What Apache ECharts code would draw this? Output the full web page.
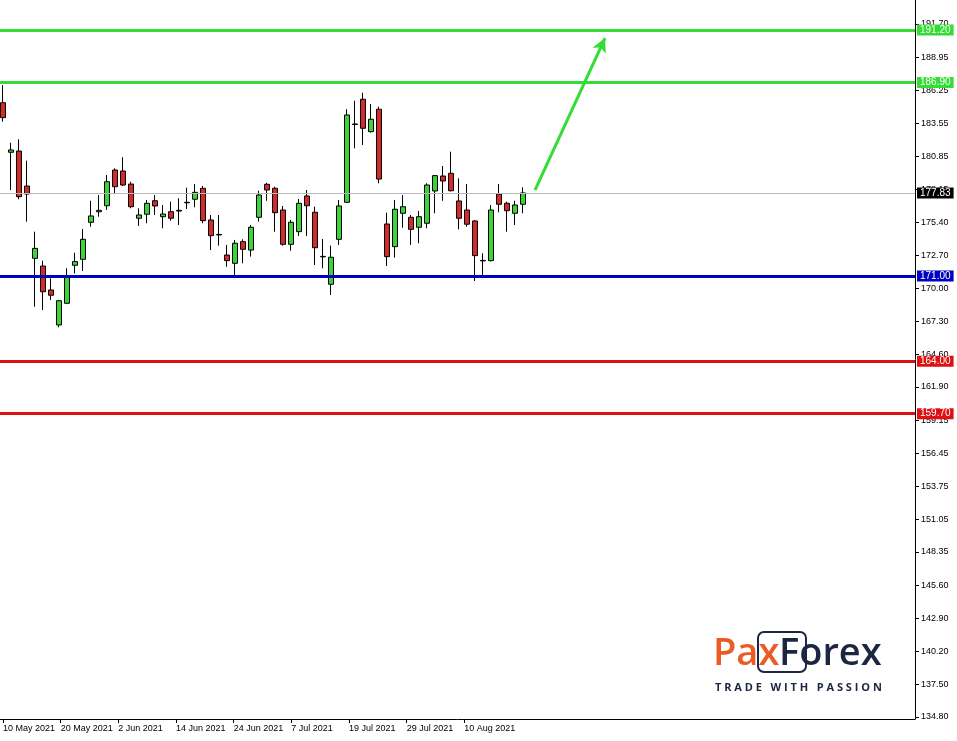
<!DOCTYPE html>
<html>
<head>
<meta charset="utf-8">
<script src="https://cdn.jsdelivr.net/npm/echarts@6/dist/echarts.min.js"></script>
<style>
html,body{margin:0;padding:0;background:#fff;}
#chart{width:957px;height:741px;}
</style>
</head>
<body>
<div id="chart"></div>
<script>
// Trading days shown (daily candles)
const dates = [
  '2021-05-10','2021-05-11','2021-05-12','2021-05-13','2021-05-14','2021-05-17','2021-05-18','2021-05-19','2021-05-20','2021-05-21',
  '2021-05-24','2021-05-25','2021-05-26','2021-05-27','2021-05-28','2021-06-01','2021-06-02','2021-06-03','2021-06-04','2021-06-07',
  '2021-06-08','2021-06-09','2021-06-10','2021-06-11','2021-06-14','2021-06-15','2021-06-16','2021-06-17','2021-06-18','2021-06-21',
  '2021-06-22','2021-06-23','2021-06-24','2021-06-25','2021-06-28','2021-06-29','2021-06-30','2021-07-01','2021-07-02','2021-07-06',
  '2021-07-07','2021-07-08','2021-07-09','2021-07-12','2021-07-13','2021-07-14','2021-07-15','2021-07-16','2021-07-19','2021-07-20',
  '2021-07-21','2021-07-22','2021-07-23','2021-07-26','2021-07-27','2021-07-28','2021-07-29','2021-07-30','2021-08-02','2021-08-03',
  '2021-08-04','2021-08-05','2021-08-06','2021-08-09','2021-08-10','2021-08-11'
];
const opens = [
  185.24,181.17,181.27,178.40,172.46,171.83,169.86,166.99,168.77,171.89,
  172.38,175.42,176.28,176.78,179.71,179.63,178.56,175.75,176.08,177.19,
  175.88,176.29,176.40,177.02,177.31,178.21,175.61,174.42,172.73,172.05,
  173.83,173.14,175.83,178.54,178.21,176.43,173.61,174.65,177.58,176.24,
  172.62,170.33,174.02,177.06,183.49,185.52,182.86,184.70,175.28,173.42,
  176.16,175.83,175.01,175.34,177.99,179.22,179.44,177.17,176.43,175.53,
  172.29,172.27,177.74,176.98,176.16,176.90
];
const closes = [
  184.01,181.36,177.52,177.74,173.28,169.72,169.43,168.98,170.95,172.19,
  174.02,175.94,176.40,178.75,178.34,178.48,176.70,176.02,176.98,176.76,
  176.10,175.75,176.34,177.06,177.88,175.55,174.32,174.38,172.27,173.70,
  173.20,175.01,177.66,178.07,176.21,173.61,175.42,176.98,176.78,173.33,
  172.58,172.55,176.76,184.23,183.45,183.14,183.88,178.97,172.60,176.49,
  176.70,174.84,175.88,178.48,179.25,178.81,178.01,175.75,175.26,172.68,
  172.25,176.43,176.90,176.37,176.84,177.83
];
const lows = [
  183.68,178.07,177.31,175.47,168.49,168.22,169.04,166.80,168.70,171.23,
  171.42,175.06,175.88,176.43,177.74,178.40,176.57,175.12,175.34,176.02,
  174.93,175.55,175.20,176.51,176.65,175.34,173.14,173.50,171.77,170.95,
  172.05,172.60,175.47,177.19,174.65,173.50,173.09,174.29,174.29,171.91,
  171.64,169.45,173.56,177.00,181.49,181.77,182.78,178.62,171.83,172.52,
  174.98,173.56,173.70,174.93,176.16,177.19,177.95,174.84,175.06,170.60,
  171.09,172.20,176.24,174.65,175.20,176.16
];
const highs = [
  186.69,181.95,182.23,180.48,174.65,172.27,170.82,169.05,171.64,172.92,
  174.87,177.19,177.66,179.30,179.85,180.76,178.75,176.57,177.25,177.66,
  176.84,177.11,177.39,178.26,178.56,178.40,176.02,176.02,173.56,173.97,
  174.02,175.20,178.01,178.67,178.34,176.76,175.61,177.33,178.07,176.70,
  174.05,173.50,177.25,184.70,185.40,186.06,185.13,184.91,176.21,177.25,
  177.66,176.02,176.35,178.62,179.30,180.04,181.22,179.03,178.56,175.60,
  172.87,176.84,178.56,177.11,177.19,178.29
];

// Horizontal levels drawn on the chart
const levelValues = [191.20, 186.90, 177.83, 171.00, 164.00, 159.70];
const levelColors = ['#33dd33', '#33dd33', '#000000', '#0000c0', '#dd1111', '#dd1111'];

// Projection arrow (bar index, price)
const arrowFrom = [66.5, 178.07];
const arrowTo = [75.25, 190.55];

// Axis ticks
const yTickLabels = ['191.70','188.95','186.25','183.55','180.85','178.15','175.40','172.70','170.00','167.30','164.60',
  '161.90','159.15','156.45','153.75','151.05','148.35','145.60','142.90','140.20','137.50','134.80'];
const xTickLabels = ['10 May 2021','20 May 2021','2 Jun 2021','14 Jun 2021','24 Jun 2021','7 Jul 2021','19 Jul 2021','29 Jul 2021','10 Aug 2021'];
const xTickBars = [0, 7.21, 14.41, 21.63, 28.84, 36.04, 43.25, 50.46, 57.66];

const candleData = dates.map((d, i) => [i, opens[i], closes[i], lows[i], highs[i]]);
const yTickValues = yTickLabels.map(Number);

const levelLines = levelValues.map((v, i) => {
  const isPrice = i === 2;
  return {
    yAxis: v,
    lineStyle: { color: isPrice ? '#b8b8b8' : levelColors[i], width: isPrice ? 1 : 3, type: 'solid' },
    label: {
      show: true, position: 'end', distance: 2,
      formatter: () => v.toFixed(2),
      color: '#ffffff', backgroundColor: levelColors[i],
      fontFamily: 'Liberation Sans', fontSize: 10, padding: [1, 3, 0, 3]
    }
  };
});

const arrowLine = [
  { coord: arrowFrom, symbol: 'none', lineStyle: { color: '#33dd33', width: 3, type: 'solid' }, label: { show: false } },
  { coord: arrowTo, symbol: 'arrow', symbolSize: [11, 14] }
];

const chart = echarts.init(document.getElementById('chart'), null, { renderer: 'canvas' });
chart.setOption({
  animation: false,
  backgroundColor: '#ffffff',
  grid: { left: 0, right: 42, top: 0, bottom: 22, containLabel: false },
  xAxis: {
    type: 'value', min: -0.375, max: 114,
    axisLine: { show: true, onZero: false, lineStyle: { color: '#000', width: 1 } },
    axisTick: { show: true, length: 4, lineStyle: { color: '#000' }, customValues: xTickBars },
    axisLabel: {
      show: true, customValues: xTickBars, align: 'left', margin: 5,
      fontFamily: 'Liberation Sans', fontSize: 9, color: '#000',
      formatter: (v) => {
        let best = 0;
        for (let i = 1; i < xTickBars.length; i++) if (Math.abs(xTickBars[i] - v) < Math.abs(xTickBars[best] - v)) best = i;
        return xTickLabels[best];
      }
    },
    splitLine: { show: false }
  },
  yAxis: {
    type: 'value', position: 'right', min: 134.636, max: 193.671, scale: true,
    axisLine: { show: true, onZero: false, lineStyle: { color: '#000', width: 1 } },
    axisTick: { show: true, length: 4, lineStyle: { color: '#000' }, customValues: yTickValues },
    axisLabel: {
      show: true, customValues: yTickValues, margin: 6,
      fontFamily: 'Liberation Sans', fontSize: 9, color: '#000',
      formatter: (v) => v.toFixed(2)
    },
    splitLine: { show: false }
  },
  series: [{
    type: 'candlestick',
    data: candleData,
    encode: { x: 0, y: [1, 2, 3, 4] },
    barWidth: 5,
    clip: false,
    itemStyle: {
      color: '#3ad33a', color0: '#d42a2a',
      borderColor: '#000', borderColor0: '#000', borderColorDoji: '#000', borderWidth: 1
    },
    markLine: {
      silent: true, symbol: ['none', 'none'], animation: false,
      data: levelLines.concat([arrowLine])
    }
  }],
  graphic: [
    { type: 'rect', z: 10, shape: { x: 758, y: 632, width: 48, height: 40, r: 6 },
      style: { fill: 'none', stroke: '#1c2541', lineWidth: 2 } },
    { type: 'text', z: 11, x: 713, y: 635,
      style: { text: 'Pax', fill: '#ea5b25', fontSize: 38, fontWeight: 600, fontFamily: 'Open Sans' } },
    { type: 'text', z: 11, x: 779, y: 635,
      style: { text: 'Forex', fill: '#1c2541', fontSize: 38, fontWeight: 600, fontFamily: 'Open Sans' } },
    { type: 'text', z: 11, x: 715, y: 682,
      style: { text: 'T R A D E   W I T H   P A S S I O N', fill: '#1c2541', font: 'bold 11px "Open Sans"' } }
  ]
});
</script>
</body>
</html>
